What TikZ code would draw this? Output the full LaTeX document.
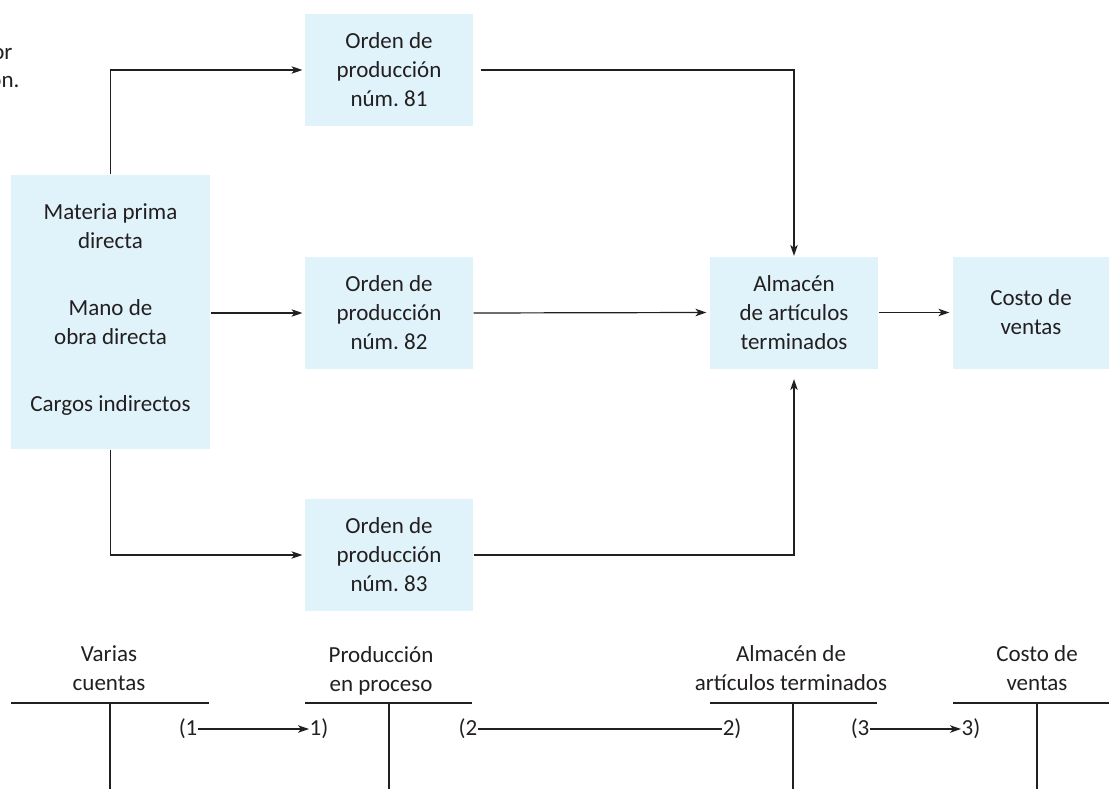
\documentclass[tikz,border=0pt]{standalone}
\usepackage{fontspec}
\setmainfont{Carlito}
\usetikzlibrary{arrows.meta}
\definecolor{celeste}{RGB}{224,243,251}
\definecolor{tinta}{RGB}{35,31,32}
\tikzset{
  caja/.style={fill=celeste, align=center, inner sep=0pt, minimum width=168pt, minimum height=112pt},
  flecha/.style={-{Stealth[length=11pt,width=7.5pt,inset=3pt]}},
  cuenta/.style={align=center, anchor=south, inner sep=0pt},
  asiento/.style={inner sep=0pt},
}
\begin{document}
\begin{tikzpicture}[x=1pt,y=-1pt,line width=1.2pt,color=tinta,font=\fontsize{23}{29}\selectfont]
\useasboundingbox (0,0) rectangle (1109,789);

\pgfmathsetmacro{\ylinea}{703};
\pgfmathsetmacro{\yasiento}{729};

% restos del pie cortado
\node[anchor=base east, inner sep=0pt] (pie1) at (13,60) {or};
\node[anchor=base east, inner sep=0pt] (pie2) at (20,88) {on.};

\node[caja, minimum width=199pt, minimum height=274pt] (mp) at (110.5,312)
  {Materia prima\\directa\\[38pt]Mano de\\obra directa\\[38pt]Cargos indirectos\\[-21pt]};

\node[caja] (o81) at (389,70) {Orden de\\producción\\núm.\ 81};
\node[caja] (o82) at (389,313) {Orden de\\producción\\núm.\ 82};
\node[caja] (o83) at (389,555) {Orden de\\producción\\núm.\ 83};
\node[caja] (alm) at (794,312.5) {Almacén\\de artículos\\terminados};
\node[caja, minimum width=156pt] (cv) at (1031,312.5) {Costo de\\ventas};

\draw[flecha] (mp.north) |- ([xshift=-2pt]o81.west);
\draw[flecha] (mp.east |- o82) -- ([xshift=-2pt]o82.west);
\draw[flecha] (mp.south) |- ([xshift=-2pt]o83.west);
\draw[flecha] ([xshift=7pt]o81.east) -| (alm.north);
\draw[flecha] (o82.east) -- ([xshift=-3pt]alm.west);
\draw[flecha] (o83.east) -| ([yshift=-10pt]alm.south);
\draw[flecha] (alm.east) -- ([xshift=-3pt]cv.west);

% cuentas T
\foreach \a/\b/\v/\t/\s/\n/\txt in {11/209/110/109/12/tvc/{Varias\\cuentas},
    305/472/389/381/7/tpp/{Producción\\en proceso},
    710/877/793/791/12/tal/{Almacén de\\artículos terminados},
    953/1109/1037/1037/12/tcv/{Costo de\\ventas}}{
  \draw (\a,\ylinea) -- (\b,\ylinea);
  \draw (\v,\ylinea) -- (\v,789);
  \node[cuenta] (\n) at (\t,\ylinea-\s) {\txt};
}

\node[asiento, anchor=east] (d1) at (198,\yasiento) {(1};
\node[asiento, anchor=west] (c1) at (309,\yasiento) {1)};
\draw[flecha] (d1) -- (c1);
\node[asiento, anchor=west] (d2) at (458,\yasiento) {(2};
\node[asiento, anchor=east] (c2) at (742,\yasiento) {2)};
\draw (d2) -- (c2);
\node[asiento, anchor=east] (d3) at (870,\yasiento) {(3};
\node[asiento, anchor=west] (c3) at (961,\yasiento) {3)};
\draw[flecha] (d3) -- (c3);

\end{tikzpicture}
\end{document}
